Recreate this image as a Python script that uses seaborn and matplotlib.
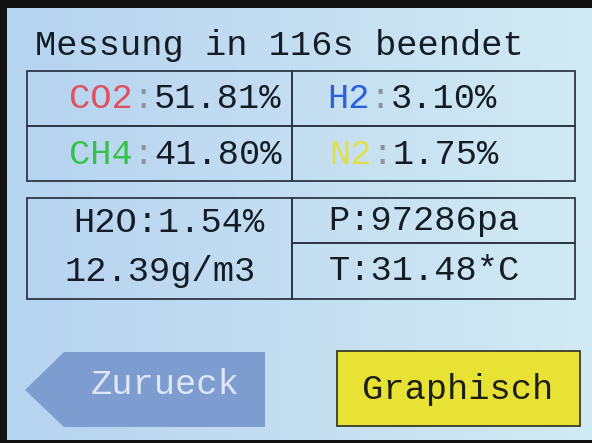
#Import helpful toolboxes etc
import matplotlib
matplotlib.use("Agg")
import matplotlib.pyplot as plt
from matplotlib.patches import Rectangle, Polygon
import numpy as np
import seaborn as sns

#screen texts and readings
title = 'Messung in 116s beendet'
gas_names = ['CO2', 'H2', 'CH4', 'N2']
gas_values = [51.81, 3.10, 41.80, 1.75]
gas_colors = ['#e0505f', '#2a5fe0', '#34c24a', '#e3df4a']
h2o_percent = 1.54
h2o_abs = 12.39
pressure = 97286
temperature = 31.48
button_back = 'Zurueck'
button_graph = 'Graphisch'

#set up the canvas in screen pixels
sns.set_style("white")
plt.rcParams['font.family'] = ['Liberation Mono', 'DejaVu Sans Mono']
fig = plt.figure(figsize=(5.92, 4.43), dpi=100)
ax = fig.add_axes([0, 0, 1, 1])
ax.set_xlim(0, 592)
ax.set_ylim(443, 0)
ax.axis('off')

#black frame and light blue lcd background
fig.patch.set_facecolor('#111111')
left = np.array([182, 211, 240]) / 255
right = np.array([210, 234, 243]) / 255
grad = np.linspace(0, 1, 200)[None, :, None]
bg = left + (right - left) * grad
ax.imshow(bg, extent=(7, 592, 440, 8), aspect='auto', zorder=0)

fs = 25.5
line = '#2b3747'
txt = '#141c26'
colon = '#8a93a0'

#headline
ax.text(35, 45, title, fontsize=fs, color=txt, va='center', ha='left')

#gas table (2 x 2)
for x0, y0, w, h in [(27, 71, 265, 55), (292, 71, 283, 55), (27, 126, 265, 55), (292, 126, 283, 55)]:
    ax.add_patch(Rectangle((x0, y0), w, h, fill=False, ec=line, lw=1.3, zorder=2))

pos = [(69, 98), (327, 98), (69, 154), (329, 154)]
for (x, y), name, val, c in zip(pos, gas_names, gas_values, gas_colors):
    t = ax.text(x, y, name, fontsize=fs, color=c, va='center', ha='left')
    ax.annotate(':', xycoords=t, xy=(1, 0.5), va='center', ha='left', fontsize=fs, color=colon)
    t2 = ax.annotate(':', xycoords=t, xy=(1, 0.5), va='center', ha='left', fontsize=fs, color='none')
    ax.annotate('{:.2f}%'.format(val), xycoords=t2, xy=(1, 0.5), va='center', ha='left', fontsize=fs, color=txt)

#humidity / pressure / temperature table
ax.add_patch(Rectangle((27, 198), 265, 101, fill=False, ec=line, lw=1.3, zorder=2))
ax.add_patch(Rectangle((292, 198), 283, 45, fill=False, ec=line, lw=1.3, zorder=2))
ax.add_patch(Rectangle((292, 243), 283, 56, fill=False, ec=line, lw=1.3, zorder=2))

ax.text(169, 222, 'H2O:{:.2f}%'.format(h2o_percent), fontsize=fs, color=txt, va='center', ha='center')
ax.text(160, 272, '{:.2f}g/m3'.format(h2o_abs), fontsize=fs, color=txt, va='center', ha='center')
ax.text(424, 220, 'P:{}pa'.format(pressure), fontsize=fs, color=txt, va='center', ha='center')
ax.text(424, 270, 'T:{:.2f}*C'.format(temperature), fontsize=fs, color=txt, va='center', ha='center')

#back button (arrow shape)
arrow = Polygon([(25, 390), (64, 352), (265, 352), (265, 427), (64, 427)], closed=True,
                fc='#7d9dd0', ec='none', zorder=2)
ax.add_patch(arrow)
ax.text(165, 385, button_back, fontsize=fs, color='#dfe7f7', va='center', ha='center', zorder=3)

#graph button
ax.add_patch(Rectangle((337, 351), 243, 75, fc='#e8e234', ec='#3a3a2a', lw=1.3, zorder=2))
ax.text(458, 389, button_graph, fontsize=fs, color='#1e1e14', va='center', ha='center', zorder=3)

#final plotting & saving
fig.savefig('out.png', dpi=100, facecolor=fig.get_facecolor())
